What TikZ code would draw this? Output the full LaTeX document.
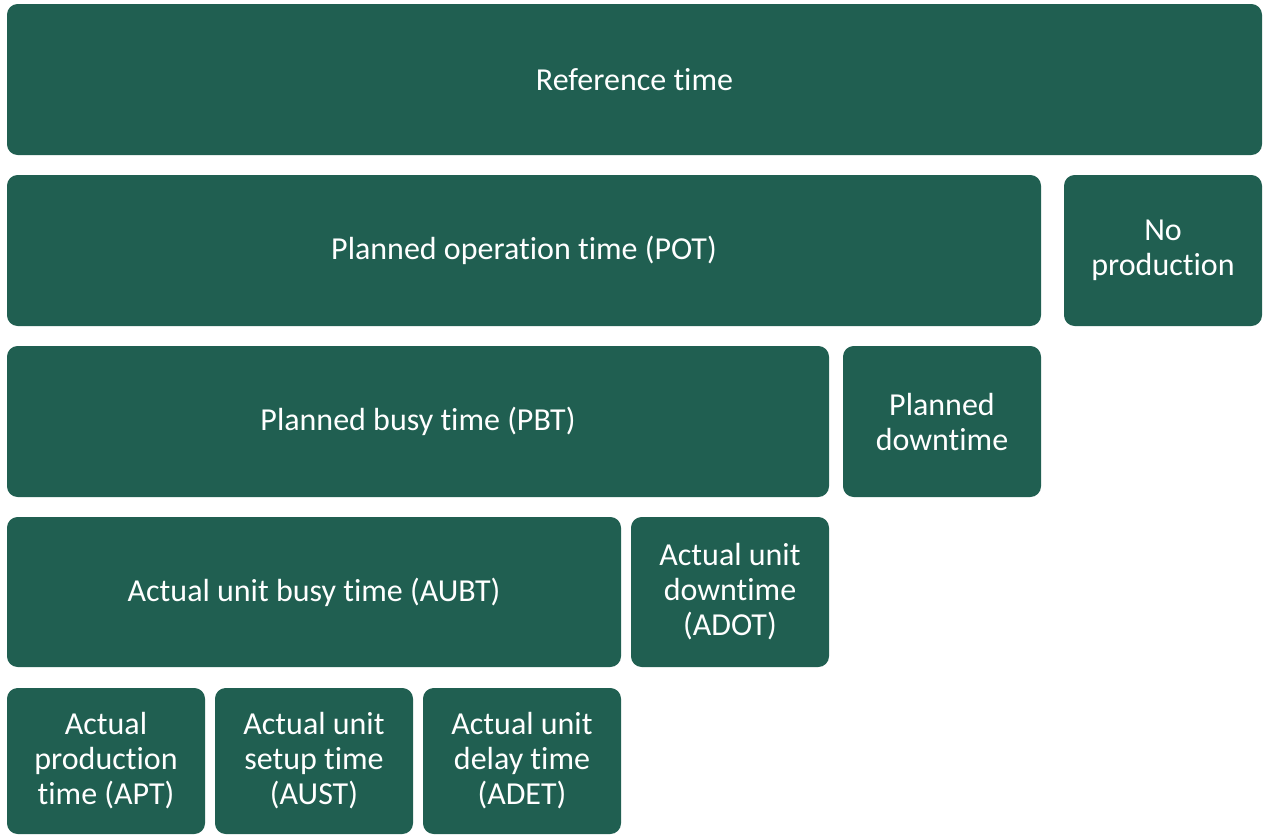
\documentclass[tikz,border=0pt]{standalone}
\usepackage{fontspec}
\setmainfont{Carlito}[Ligatures=NoCommon]
\definecolor{boxgreen}{RGB}{32,95,81}
\tikzset{
  tbox/.style 2 args={fill=boxgreen, draw=none, rounded corners=8pt, inner sep=0pt,
    minimum width=#1*0.75pt, minimum height=#2*0.75pt,
    text=white, align=center, font=\fontsize{24pt}{26.25pt}\selectfont}
}
\begin{document}
\begin{tikzpicture}[x=0.75pt,y=-0.75pt]
\useasboundingbox (0,0) rectangle (1263,836);
\node[tbox={1255}{151}] (ref) at (634.5,79.5) {Reference time};
\node[tbox={1034}{151}] (pot) at (524,250.5) {Planned operation time (POT)};
\node[tbox={198}{151}] (nop) at (1163,250.5) {No\\production};
\node[tbox={822}{151}] (pbt) at (418,421.5) {Planned busy time (PBT)};
\node[tbox={198}{151}] (pd) at (942,421.5) {Planned\\downtime};
\node[tbox={614}{150}] (aubt) at (314,592) {Actual unit busy time (AUBT)};
\node[tbox={198}{150}] (adot) at (730,592) {Actual unit\\downtime\\(ADOT)};
\node[tbox={198}{146}] (apt) at (106,761) {Actual\\production\\time (APT)};
\node[tbox={198}{146}] (aust) at (314,761) {Actual unit\\setup time\\(AUST)};
\node[tbox={198}{146}] (adet) at (522,761) {Actual unit\\delay time\\(ADET)};
\end{tikzpicture}
\end{document}
